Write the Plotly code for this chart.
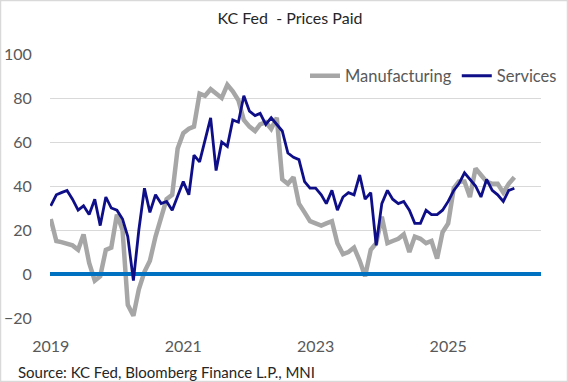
import pandas as pd
import plotly.graph_objects as go

DATES = pd.date_range("2019-01-01", "2026-01-01", freq="MS")

MANUFACTURING = [
    25, 15, 14.5, 14, 13, 11, 18, 5, -3, -1, 11, 12,          # 2019
    27, 20, -14, -19, -7, 1, 6, 17, 25, 34, 36, 57,           # 2020
    64, 66, 67, 82, 81, 84, 82, 80, 86, 83, 79, 70,           # 2021
    67, 65, 68, 69, 66, 71, 43, 41, 44, 32, 28, 24,           # 2022
    23, 22, 23, 24, 14, 9, 10, 12, 6, -1, 11, 14,             # 2023
    26, 14, 15, 16, 18, 10, 17, 16, 14, 15, 7, 19,            # 2024
    23, 39, 42, 42, 35, 48, 45, 42, 41, 41, 37, 41,           # 2025
    44,                                                       # 2026
]

SERVICES = [
    31, 36, 37, 38, 34, 29, 31, 27, 34, 22, 35, 30,           # 2019
    29, 25, 17, -3, 20, 39, 28, 36, 32, 33, 29, 35,           # 2020
    42, 36, 54, 51, 61, 71, 47, 60, 58, 70, 69, 81,           # 2021
    74, 72, 73, 68, 71, 68, 65, 55, 53, 52, 42, 39,           # 2022
    39, 36, 32, 38, 29, 35, 37, 36, 45, 34, 37, 13,           # 2023
    32, 38, 34, 32, 33, 29, 23, 23, 29, 27, 27, 29,           # 2024
    33, 38, 41, 46, 43, 40, 35, 43, 38, 36, 33, 38,           # 2025
    39,                                                       # 2026
]

ZERO = [0, 0]
X_RANGE = ["2018-12-28", "2026-05-28"]
Y_RANGE = [-20, 100]
TICK_DATES = ["2019-01-01", "2021-01-01", "2023-01-01", "2025-01-01"]
TICK_TEXT = ["2019", "2021", "2023", "2025"]
Y_TICKS = [-20, 0, 20, 40, 60, 80, 100]

FONT = "Lato"
W, H = 568, 382
ML, MR, MT, MB = 50, 27, 54, 64
PW, PH = W - ML - MR, H - MT - MB

fig = go.Figure()
fig.add_trace(go.Scatter(x=DATES, y=MANUFACTURING, mode="lines", name="Manufacturing",
                         line=dict(color="#A6A6A6", width=4.5)))
fig.add_trace(go.Scatter(x=X_RANGE, y=ZERO, mode="lines", showlegend=False,
                         line=dict(color="#0070C0", width=4), hoverinfo="skip"))
fig.add_trace(go.Scatter(x=DATES, y=SERVICES, mode="lines", name="Services",
                         line=dict(color="#0E0E88", width=2.8)))

fig.update_layout(
    width=W, height=H,
    margin=dict(l=ML, r=MR, t=MT, b=MB, autoexpand=False),
    paper_bgcolor="white", plot_bgcolor="white",
    font=dict(family=FONT, color="#595959", size=16),
    title=dict(text="KC Fed\u00a0 - Prices Paid", x=290 / W, xanchor="center",
               y=1 - 18 / H, yanchor="middle", xref="container", yref="container",
               font=dict(family=FONT, size=16, color="#262626")),
    showlegend=True,
    legend=dict(orientation="h", x=(562 - ML) / PW, xanchor="right",
                y=(H - MB - 76) / PH, yanchor="middle",
                font=dict(family=FONT, size=16.5, color="#595959"),
                bgcolor="white", itemwidth=30, tracegroupgap=0),
    xaxis=dict(type="date", range=X_RANGE, tickvals=TICK_DATES, ticktext=TICK_TEXT,
               showgrid=False, zeroline=False, showline=False,
               ticks="outside", ticklen=14, tickcolor="rgba(0,0,0,0)",
               tickfont=dict(family=FONT, size=16, color="#595959")),
    yaxis=dict(range=Y_RANGE, tickvals=Y_TICKS, showgrid=True, gridcolor="#D9D9D9",
               gridwidth=1, zeroline=False, showline=False,
               ticks="outside", ticklen=14, tickcolor="rgba(0,0,0,0)",
               tickfont=dict(family=FONT, size=16, color="#595959")),
    annotations=[dict(text="Source: KC Fed, Bloomberg Finance L.P., MNI",
                      xref="paper", yref="paper", x=(16 - ML) / PW, xanchor="left",
                      y=(H - MB - 372) / PH, yanchor="middle", showarrow=False,
                      font=dict(family=FONT, size=15, color="#262626"))],
    shapes=[dict(type="rect", xref="paper", yref="paper",
                 x0=(0.5 - ML) / PW, x1=(W - 0.5 - ML) / PW,
                 y0=(H - MB - (H - 0.5)) / PH, y1=(H - MB - 0.5) / PH,
                 line=dict(color="#D9D9D9", width=1.5), fillcolor="rgba(0,0,0,0)",
                 layer="below")],
)

fig.write_html(
    "out.html",
    config={"displayModeBar": False},
    post_script="document.body.style.margin='0px';document.body.style.padding='0px';"
                "document.body.style.overflow='hidden';",
)
